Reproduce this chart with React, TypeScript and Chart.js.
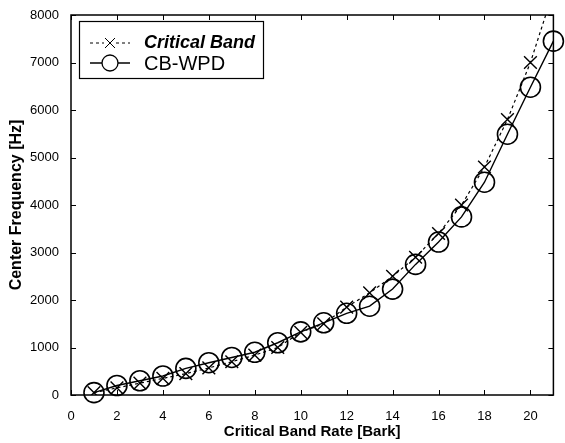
import React, { useEffect, useRef } from "react";
import { Chart, registerables } from "chart.js";

Chart.register(...registerables);

const barkRates = [1, 2, 3, 4, 5, 6, 7, 8, 9, 10, 11, 12, 13, 14, 15, 16, 17, 18, 19, 20, 21];
const criticalBand = [50, 150, 250, 350, 450, 570, 700, 840, 1000, 1320, 1500, 1850, 2150, 2500, 2900, 3400, 4000, 4800, 5800, 7000, 8500];
const cbWpd = [50, 200, 300, 400, 560, 680, 790, 900, 1100, 1330, 1520, 1720, 1870, 2230, 2750, 3220, 3750, 4480, 5490, 6480, 7450];
const xTicks = [0, 2, 4, 6, 8, 10, 12, 14, 16, 18, 20];
const yTicks = [0, 1000, 2000, 3000, 4000, 5000, 6000, 7000, 8000];
const seriesNames = ["Critical Band", "CB-WPD"];
const xTitle = "Critical Band Rate [Bark]";
const yTitle = "Center Frequency [Hz]";

const FONT = "'Liberation Sans', Arial, Helvetica, sans-serif";

const frameAndLegend = {
  id: "frameAndLegend",
  afterDraw(chart: any) {
    const { ctx, chartArea } = chart;
    const { left, right, top, bottom } = chartArea;
    const xs = chart.scales.x;
    const ys = chart.scales.y;
    ctx.save();
    ctx.strokeStyle = "#000";
    ctx.lineWidth = 1.5;
    ctx.setLineDash([]);
    ctx.strokeRect(left, top, right - left, bottom - top);
    ctx.lineWidth = 1;
    const tl = 5;
    ctx.beginPath();
    xTicks.forEach((v) => {
      const px = Math.round(xs.getPixelForValue(v)) + 0.5;
      ctx.moveTo(px, bottom);
      ctx.lineTo(px, bottom - tl);
      ctx.moveTo(px, top);
      ctx.lineTo(px, top + tl);
    });
    yTicks.forEach((v) => {
      const py = Math.round(ys.getPixelForValue(v)) + 0.5;
      ctx.moveTo(left, py);
      ctx.lineTo(left + tl, py);
      ctx.moveTo(right, py);
      ctx.lineTo(right - tl, py);
    });
    ctx.stroke();

    // legend
    const bx = left + 8;
    const by = top + 6;
    const bw = 184;
    const bh = 57;
    ctx.fillStyle = "#fff";
    ctx.fillRect(bx, by, bw, bh);
    ctx.lineWidth = 1.2;
    ctx.strokeRect(bx + 0.5, by + 0.5, bw, bh);

    const lx0 = bx + 11;
    const lx1 = bx + 51;
    const mx = (lx0 + lx1) / 2;
    const r1 = by + 22;
    const r2 = by + 42;
    ctx.lineWidth = 1;
    ctx.setLineDash([3, 3]);
    ctx.beginPath();
    ctx.moveTo(lx0, r1);
    ctx.lineTo(mx - 6, r1);
    ctx.moveTo(mx + 6, r1);
    ctx.lineTo(lx1, r1);
    ctx.stroke();
    ctx.setLineDash([]);
    ctx.beginPath();
    ctx.moveTo(mx - 5, r1 - 5);
    ctx.lineTo(mx + 5, r1 + 5);
    ctx.moveTo(mx + 5, r1 - 5);
    ctx.lineTo(mx - 5, r1 + 5);
    ctx.stroke();
    ctx.lineWidth = 1.3;
    ctx.beginPath();
    ctx.moveTo(lx0, r2);
    ctx.lineTo(lx1, r2);
    ctx.stroke();
    ctx.beginPath();
    ctx.arc(mx, r2, 8, 0, Math.PI * 2);
    ctx.fillStyle = "#fff";
    ctx.fill();
    ctx.stroke();

    ctx.fillStyle = "#000";
    ctx.textBaseline = "middle";
    ctx.textAlign = "left";
    ctx.font = `italic bold 18px ${FONT}`;
    ctx.fillText(seriesNames[0], bx + 65, r1);
    ctx.font = `20px ${FONT}`;
    ctx.fillText(seriesNames[1], bx + 65, r2 + 1);
    ctx.restore();
  },
};

export default function App() {
  const ref = useRef<HTMLCanvasElement | null>(null);
  useEffect(() => {
    document.body.style.margin = "0";
    const canvas = ref.current;
    if (!canvas) return;
    const chart = new Chart(canvas, {
      type: "line",
      data: {
        datasets: [
          {
            label: seriesNames[0],
            data: barkRates.map((x, i) => ({ x, y: criticalBand[i] })),
            borderColor: "#000",
            backgroundColor: "rgba(0,0,0,0)",
            borderWidth: 1.2,
            borderDash: [3, 3],
            pointStyle: "crossRot",
            pointRadius: 9,
            pointBorderWidth: 1.4,
            pointBorderColor: "#000",
            tension: 0,
            fill: false,
          },
          {
            label: seriesNames[1],
            data: barkRates.map((x, i) => ({ x, y: cbWpd[i] })),
            borderColor: "#000",
            backgroundColor: "rgba(0,0,0,0)",
            borderWidth: 1.4,
            pointStyle: "circle",
            pointRadius: 10,
            pointBorderWidth: 1.6,
            pointBorderColor: "#000",
            pointBackgroundColor: "rgba(0,0,0,0)",
            tension: 0,
            fill: false,
            clip: false,
          },
        ],
      },
      options: {
        responsive: false,
        animation: false,
        layout: { padding: { top: 15, right: 8, left: 0, bottom: 0 } },
        plugins: { legend: { display: false }, tooltip: { enabled: false } },
        scales: {
          x: {
            type: "linear",
            min: 0,
            max: 21,
            afterFit: (s: any) => {
              s.height = 48;
            },
            afterBuildTicks: (s: any) => {
              s.ticks = xTicks.map((v) => ({ value: v }));
            },
            grid: { display: false },
            border: { display: false },
            ticks: {
              color: "#000",
              padding: 6,
              maxRotation: 0,
              autoSkip: false,
              callback: (v: any) => String(v),
              font: { family: FONT, size: 13 },
            },
            title: {
              display: true,
              text: xTitle,
              color: "#000",
              font: { family: FONT, size: 15, weight: "bold" },
              padding: { top: 0, bottom: 2 },
            },
          },
          y: {
            type: "linear",
            min: 0,
            max: 8000,
            afterFit: (s: any) => {
              s.width = 71;
            },
            afterBuildTicks: (s: any) => {
              s.ticks = yTicks.map((v) => ({ value: v }));
            },
            grid: { display: false },
            border: { display: false },
            ticks: {
              color: "#000",
              padding: 4,
              autoSkip: false,
              callback: (v: any) => String(v),
              font: { family: FONT, size: 13 },
            },
            title: {
              display: true,
              text: yTitle,
              color: "#000",
              font: { family: FONT, size: 16, weight: "bold" },
              padding: { top: 7, bottom: 0 },
            },
          },
        },
      },
      plugins: [frameAndLegend],
    });
    return () => chart.destroy();
  }, []);
  return (
    <div style={{ width: 565, height: 443, background: "#fff" }}>
      <canvas ref={ref} width={565} height={443} />
    </div>
  );
}
